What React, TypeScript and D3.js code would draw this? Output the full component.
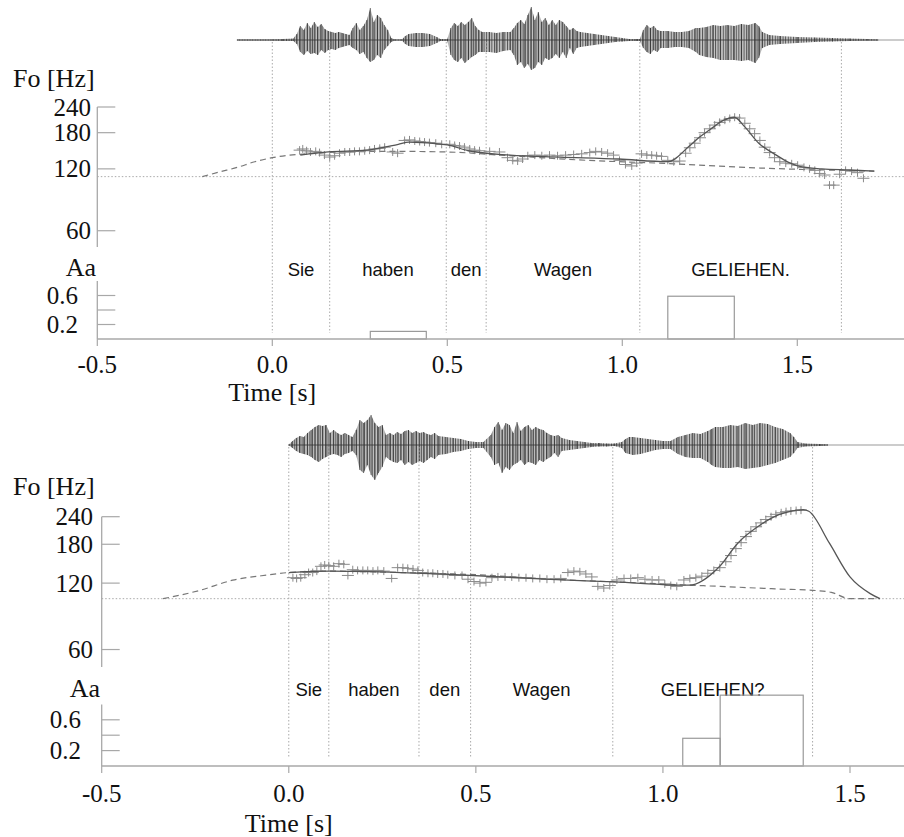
import React from 'react';
import * as d3 from 'd3';

// ---------- shared ticks ----------
const xTicks = [-0.5, 0.0, 0.5, 1.0, 1.5];
const f0Ticks = [60, 120, 180, 240];
const aaTicks = [0.2, 0.4, 0.6];
const aaLabelTicks = [0.2, 0.6];

// ---------- statement: "Sie haben den Wagen GELIEHEN." ----------
const wordsA = ['Sie', 'haben', 'den', 'Wagen', 'GELIEHEN.'];
const boundsA = [0.0, 0.164, 0.497, 0.611, 1.05, 1.626];
const baseHzA = 110;
// phrase component (dashed)
const phraseA: [number, number][] = [
  [-0.2, 110], [-0.15, 116], [-0.1, 122], [-0.05, 130], [0.0, 136], [0.05, 140], [0.1, 142],
  [0.2, 145], [0.35, 146], [0.5, 145], [0.65, 140], [0.9, 132], [1.1, 128], [1.4, 121], [1.72, 117],
];
// total contour (solid)
const contourA: [number, number][] = [
  [0.08, 140], [0.16, 145], [0.27, 148], [0.36, 158], [0.39, 162], [0.5, 157], [0.56, 147],
  [0.68, 140], [0.82, 137], [0.99, 134], [1.13, 130], [1.19, 154], [1.22, 171], [1.25, 186],
  [1.29, 207], [1.32, 214], [1.35, 192], [1.39, 160], [1.44, 140], [1.48, 128], [1.51, 123],
  [1.57, 120], [1.65, 118.5], [1.72, 117],
];
// measured F0 (crosses)
const f0PointsA: [number, number][] = [
  [0.078, 148], [0.087, 150], [0.098, 147], [0.109, 145], [0.124, 146], [0.135, 144], [0.149, 140],
  [0.164, 137], [0.178, 139], [0.192, 143], [0.207, 145], [0.221, 145], [0.235, 146], [0.249, 146],
  [0.264, 147], [0.278, 148], [0.292, 150], [0.307, 151], [0.321, 153], [0.344, 145], [0.358, 143],
  [0.378, 165], [0.392, 166], [0.407, 164], [0.421, 163], [0.435, 162], [0.449, 161], [0.467, 160],
  [0.484, 158], [0.507, 158], [0.521, 156], [0.535, 155], [0.549, 153], [0.564, 150], [0.578, 148],
  [0.592, 147], [0.621, 146], [0.649, 145], [0.672, 136], [0.687, 132], [0.701, 131], [0.715, 134],
  [0.73, 139], [0.75, 140], [0.77, 139], [0.792, 140], [0.815, 139], [0.838, 140], [0.861, 141],
  [0.884, 142], [0.907, 144], [0.924, 146], [0.941, 145], [0.958, 143], [0.975, 140], [0.992, 132],
  [1.009, 126], [1.027, 124], [1.041, 128], [1.055, 142], [1.07, 140], [1.084, 140], [1.098, 139],
  [1.112, 138], [1.13, 132], [1.147, 130], [1.164, 131], [1.181, 143], [1.193, 152], [1.207, 160],
  [1.222, 170], [1.235, 180], [1.25, 188], [1.264, 196], [1.278, 202], [1.293, 207], [1.307, 211],
  [1.321, 214], [1.335, 212], [1.35, 200], [1.364, 188], [1.378, 178], [1.393, 165], [1.407, 153],
  [1.421, 144], [1.435, 136], [1.45, 130], [1.467, 128], [1.484, 127], [1.501, 125], [1.519, 122],
  [1.535, 120], [1.55, 118], [1.564, 114], [1.578, 112], [1.592, 100], [1.604, 100], [1.621, 113],
  [1.638, 118], [1.655, 117], [1.672, 115], [1.689, 108],
];
// accent commands: [onset, offset, amplitude]
const accentsA: [number, number, number][] = [[0.28, 0.44, 0.105], [1.13, 1.32, 0.59]];
// speech waveform envelope: [time, upper, lower]
const waveA: [number, number, number][] = [
  [-0.1, 0.5, 0.5], [0.0, 0.5, 0.5], [0.03, 1, 1], [0.06, 1.5, 1], [0.07, 6, 4], [0.08, 14, 12],
  [0.09, 10, 15], [0.1, 17, 11], [0.11, 12, 14], [0.12, 18, 13], [0.13, 13, 15], [0.14, 16, 10],
  [0.15, 11, 13], [0.16, 9, 10], [0.17, 8, 9], [0.18, 7, 10], [0.19, 8, 8], [0.2, 7, 7], [0.21, 6, 6],
  [0.22, 5, 5], [0.23, 12, 8], [0.24, 17, 10], [0.25, 10, 14], [0.26, 14, 12], [0.27, 20, 18],
  [0.28, 32, 22], [0.29, 18, 20], [0.3, 25, 15], [0.31, 22, 18], [0.32, 15, 10], [0.33, 10, 6],
  [0.34, 2, 2], [0.35, 0.5, 0.5], [0.37, 0.5, 0.5], [0.38, 4, 4], [0.39, 6, 6], [0.41, 7, 7],
  [0.43, 7, 7], [0.45, 6, 6], [0.47, 3, 3], [0.48, 1, 1], [0.5, 1, 1], [0.51, 12, 15], [0.52, 17, 20],
  [0.53, 14, 22], [0.54, 18, 18], [0.55, 15, 23], [0.56, 18, 20], [0.57, 22, 17], [0.58, 14, 15],
  [0.59, 10, 12], [0.6, 8, 12], [0.62, 8, 12], [0.64, 7, 13], [0.66, 8, 11], [0.68, 8, 10],
  [0.69, 12, 15], [0.7, 17, 25], [0.71, 20, 22], [0.72, 16, 28], [0.73, 25, 24], [0.74, 33, 30],
  [0.75, 20, 28], [0.76, 28, 22], [0.77, 18, 25], [0.78, 22, 18], [0.79, 15, 20], [0.8, 20, 18],
  [0.81, 15, 14], [0.82, 20, 18], [0.83, 18, 12], [0.84, 14, 18], [0.85, 10, 8], [0.86, 12, 14],
  [0.87, 9, 8], [0.88, 8, 7], [0.9, 7, 6], [0.92, 6, 5], [0.94, 5, 4], [0.96, 4, 3], [0.98, 3, 2],
  [1.0, 2, 1.5], [1.02, 1, 1], [1.04, 1, 1], [1.05, 1, 1], [1.06, 10, 8], [1.07, 15, 12],
  [1.08, 12, 14], [1.09, 14, 10], [1.1, 10, 12], [1.11, 9, 8], [1.13, 9, 8], [1.15, 8, 7],
  [1.17, 8, 7], [1.19, 9, 8], [1.21, 12, 12], [1.22, 12, 15], [1.24, 13, 17], [1.26, 15, 18],
  [1.28, 14, 20], [1.3, 15, 20], [1.32, 14, 20], [1.34, 16, 21], [1.36, 15, 20], [1.38, 17, 23],
  [1.39, 14, 18], [1.4, 8, 8], [1.42, 5, 5], [1.45, 4, 4], [1.5, 3, 3], [1.55, 2.5, 2],
  [1.6, 2, 1.5], [1.65, 1.5, 1], [1.7, 1, 0.5], [1.73, 0.5, 0.5],
];

// ---------- question: "Sie haben den Wagen GELIEHEN?" ----------
const wordsB = ['Sie', 'haben', 'den', 'Wagen', 'GELIEHEN?'];
const boundsB = [0.0, 0.107, 0.348, 0.486, 0.866, 1.4];
const baseHzB = 102;
const phraseB: [number, number][] = [
  [-0.336, 102], [-0.24, 111], [-0.15, 123.7], [-0.05, 131], [0.0, 134], [0.1, 136], [0.3, 134],
  [0.5, 131], [0.7, 125], [0.9, 121], [1.07, 117.5], [1.15, 116], [1.3, 113], [1.41, 111],
  [1.45, 109], [1.5, 102], [1.58, 102],
];
const contourB: [number, number][] = [
  [0.0, 134], [0.11, 136], [0.3, 134], [0.43, 131.5], [0.7, 124.7], [0.87, 121.5], [1.07, 117.4],
  [1.15, 142], [1.2, 182], [1.26, 220], [1.31, 245], [1.34, 254], [1.375, 258], [1.39, 254],
  [1.445, 182], [1.5, 128], [1.554, 107.5], [1.58, 102],
];
const f0PointsB: [number, number][] = [
  [0.011, 127], [0.021, 126], [0.032, 127], [0.043, 131], [0.053, 134], [0.064, 134], [0.075, 136],
  [0.086, 143], [0.096, 145], [0.107, 144], [0.12, 143], [0.134, 147], [0.147, 146], [0.158, 130],
  [0.171, 138], [0.184, 137], [0.198, 137], [0.211, 137], [0.225, 136], [0.238, 137], [0.254, 136],
  [0.275, 126], [0.291, 141], [0.305, 141], [0.318, 140], [0.332, 139], [0.345, 137], [0.358, 134],
  [0.372, 133], [0.385, 133], [0.398, 132], [0.412, 132], [0.425, 131], [0.444, 130], [0.463, 130],
  [0.479, 125], [0.495, 122], [0.511, 120], [0.527, 121], [0.543, 127], [0.559, 128], [0.578, 128],
  [0.596, 128], [0.615, 127], [0.634, 127], [0.652, 126], [0.671, 126], [0.69, 125], [0.709, 125],
  [0.727, 126], [0.746, 134], [0.762, 136], [0.778, 135], [0.794, 132], [0.81, 128], [0.826, 116],
  [0.842, 114], [0.858, 117], [0.877, 124], [0.896, 126], [0.914, 126], [0.933, 127], [0.952, 125],
  [0.971, 124], [0.989, 124], [1.005, 119], [1.021, 117], [1.037, 116], [1.056, 124], [1.072, 126],
  [1.088, 127], [1.104, 129], [1.12, 133], [1.136, 137], [1.152, 141], [1.168, 150], [1.182, 160],
  [1.195, 172], [1.209, 183], [1.222, 195], [1.235, 206], [1.249, 216], [1.262, 225], [1.275, 233],
  [1.289, 240], [1.302, 246], [1.316, 250], [1.329, 253], [1.342, 255], [1.356, 256], [1.369, 257],
];
const accentsB: [number, number, number][] = [[1.053, 1.153, 0.36], [1.153, 1.375, 0.92]];
const waveB: [number, number, number][] = [
  [0.0, 0.5, 0.5], [0.01, 4, 3], [0.02, 7, 6], [0.03, 9, 8], [0.04, 8, 9], [0.05, 12, 10],
  [0.06, 15, 12], [0.07, 18, 15], [0.08, 20, 17], [0.09, 19, 14], [0.1, 20, 12], [0.11, 12, 10],
  [0.12, 15, 9], [0.13, 12, 10], [0.14, 10, 12], [0.15, 12, 9], [0.16, 10, 8], [0.17, 8, 6],
  [0.18, 15, 10], [0.19, 25, 25], [0.2, 22, 28], [0.21, 25, 20], [0.22, 30, 30], [0.23, 22, 35],
  [0.24, 18, 28], [0.25, 20, 22], [0.26, 10, 12], [0.27, 12, 15], [0.28, 10, 17], [0.29, 13, 18],
  [0.3, 11, 15], [0.31, 14, 20], [0.32, 15, 17], [0.33, 12, 20], [0.34, 14, 18], [0.35, 12, 16],
  [0.36, 13, 18], [0.37, 11, 15], [0.38, 10, 12], [0.39, 12, 14], [0.4, 9, 10], [0.42, 8, 9],
  [0.44, 7, 7], [0.46, 6, 6], [0.48, 4, 4], [0.5, 3, 3], [0.52, 3, 3], [0.54, 10, 12], [0.55, 18, 20],
  [0.56, 23, 18], [0.57, 15, 28], [0.58, 22, 22], [0.59, 20, 25], [0.6, 12, 20], [0.61, 23, 18],
  [0.62, 14, 15], [0.63, 18, 20], [0.64, 20, 17], [0.65, 15, 18], [0.66, 18, 20], [0.67, 16, 15],
  [0.68, 15, 17], [0.69, 12, 14], [0.7, 10, 12], [0.71, 9, 8], [0.72, 10, 12], [0.73, 7, 6],
  [0.75, 5, 5], [0.77, 4, 4], [0.79, 3, 3], [0.81, 2, 2], [0.83, 2, 1.5], [0.85, 1.5, 1.5],
  [0.87, 1.5, 1], [0.89, 3, 3], [0.9, 6, 8], [0.91, 8, 9], [0.92, 8, 10], [0.94, 7, 9], [0.96, 6, 7],
  [0.98, 5, 5], [1.0, 4, 4], [1.02, 4, 4], [1.04, 8, 9], [1.06, 10, 12], [1.08, 12, 13],
  [1.1, 11, 13], [1.12, 14, 17], [1.13, 16, 20], [1.14, 18, 22], [1.16, 18, 23], [1.18, 20, 23],
  [1.2, 19, 22], [1.22, 22, 24], [1.24, 20, 23], [1.26, 22, 22], [1.28, 21, 20], [1.3, 18, 18],
  [1.32, 16, 15], [1.34, 12, 12], [1.35, 8, 8], [1.36, 3, 3], [1.38, 1.5, 1.5], [1.42, 1, 1],
  [1.44, 0.5, 0.5],
];

const serif = '"Liberation Serif", "Times New Roman", serif';
const sans = '"Liberation Sans", Arial, sans-serif';
const axisColor = '#a8a8a8';

type PanelProps = {
  words: string[]; bounds: number[]; baseHz: number;
  phrase: [number, number][]; contour: [number, number][]; f0Points: [number, number][];
  accents: [number, number, number][]; wave: [number, number, number][];
  layout: any; id: string;
};

function Panel({ words, bounds, baseHz, phrase, contour, f0Points, accents, wave, layout, id }: PanelProps) {
  const L = layout;
  const x = d3.scaleLinear().domain([-0.5, 1.5]).range([L.xLeft, L.xLeft + 2 * L.pxPerSec]);
  const yF = d3.scaleLog().domain([50, 240]).range(L.f0Range);
  const yA = d3.scaleLinear().domain([0, 0.8]).range(L.aaRange);
  const yW = d3.scaleLinear().domain([-34, 34]).range([L.waveY + 34, L.waveY - 34]);
  const xEnd = 904;

  const waveArea = d3.area<[number, number, number]>()
    .x(d => x(d[0])).y0(d => yW(-d[2])).y1(d => yW(d[1]));
  const line = d3.line<[number, number]>().x(d => x(d[0])).y(d => yF(d[1])).curve(d3.curveMonotoneX);

  return (
    <g>
      <defs>
        <pattern id={`hatch-${id}`} width={2.6} height={10} patternUnits="userSpaceOnUse">
          <rect width={2.6} height={10} fill="#c4c4c4" />
          <line x1={0.5} x2={0.5} y1={0} y2={10} stroke="#4a4a4a" strokeWidth={0.9} />
        </pattern>
      </defs>

      {/* waveform */}
      <line x1={x(wave[0][0])} x2={xEnd} y1={L.waveY} y2={L.waveY} stroke="#999" strokeWidth={1} />
      <path d={waveArea(wave) || ''} fill={`url(#hatch-${id})`} stroke="none" />
      {wave.map((d, i) => (
        <line key={i} x1={x(d[0])} x2={x(d[0])} y1={yW(d[1])} y2={yW(-d[2])} stroke="#1e1e1e" strokeWidth={0.8} opacity={0.75} />
      ))}
      <line x1={x(wave[0][0])} x2={x(wave[wave.length - 1][0])} y1={L.waveY} y2={L.waveY} stroke="#333" strokeWidth={0.8} />

      {/* word boundaries */}
      {bounds.map((b, i) => (
        <line key={i} x1={x(b)} x2={x(b)} y1={L.boundTop} y2={L.boundBottom} stroke="#aaa" strokeWidth={1} strokeDasharray="1.5,2" />
      ))}
      {words.map((w, i) => (
        <text key={w + i} x={x((bounds[i] + bounds[i + 1]) / 2)} y={L.wordY} textAnchor="middle"
          fontFamily={sans} fontSize={18.5} fill="#111">{w}</text>
      ))}

      {/* baseline frequency */}
      <line x1={L.xLeft} x2={xEnd} y1={yF(baseHz)} y2={yF(baseHz)} stroke="#aaa" strokeWidth={1} strokeDasharray="1.5,2" />

      {/* F0 axis */}
      <line x1={L.xLeft} x2={L.xLeft} y1={yF(240)} y2={yF(50)} stroke={axisColor} strokeWidth={1.3} />
      {f0Ticks.map(t => (
        <g key={t}>
          <line x1={L.xLeft} x2={L.xLeft + 18} y1={yF(t)} y2={yF(t)} stroke={axisColor} strokeWidth={1.2} />
          <text x={L.f0LabelX} y={yF(t)} dy="0.34em" textAnchor="end" fontFamily={serif} fontSize={25} fill="#111">{t}</text>
        </g>
      ))}
      <text x={13} y={L.foLabelY} fontFamily={serif} fontSize={26} fill="#111">Fo [Hz]</text>

      {/* F0 contours */}
      <path d={line(phrase) || ''} fill="none" stroke="#777" strokeWidth={1.2} strokeDasharray="6,4" />
      {f0Points.map((d, i) => (
        <g key={i} stroke="#8a8a8a" strokeWidth={1}>
          <line x1={x(d[0]) - 6} x2={x(d[0]) + 6} y1={yF(d[1])} y2={yF(d[1])} />
          <line x1={x(d[0])} x2={x(d[0])} y1={yF(d[1]) - 4} y2={yF(d[1]) + 4} />
        </g>
      ))}
      <path d={line(contour) || ''} fill="none" stroke="#555" strokeWidth={1.3} />

      {/* Aa axis */}
      <text x={L.aaTextX} y={L.aaLabelY} textAnchor="end" fontFamily={serif} fontSize={26} fill="#111">Aa</text>
      <line x1={L.xLeft} x2={L.xLeft} y1={yA(0.8)} y2={yA(0)} stroke={axisColor} strokeWidth={1.3} />
      {aaTicks.map(t => (
        <line key={t} x1={L.xLeft} x2={L.xLeft + 18} y1={yA(t)} y2={yA(t)} stroke={axisColor} strokeWidth={1.2} />
      ))}
      {aaLabelTicks.map(t => (
        <text key={t} x={L.aaLabelX} y={yA(t)} dy="0.34em" textAnchor="end" fontFamily={serif} fontSize={25} fill="#111">{t.toFixed(1)}</text>
      ))}
      {accents.map((a, i) => (
        <rect key={i} x={x(a[0])} y={yA(a[2])} width={x(a[1]) - x(a[0])} height={yA(0) - yA(a[2])}
          fill="none" stroke="#999" strokeWidth={1.2} />
      ))}

      {/* time axis */}
      <line x1={L.xLeft} x2={xEnd} y1={L.axisY} y2={L.axisY} stroke={axisColor} strokeWidth={1.3} />
      {xTicks.map(t => (
        <g key={t}>
          <line x1={x(t)} x2={x(t)} y1={L.axisY} y2={L.axisY + 7} stroke={axisColor} strokeWidth={1.2} />
          <text x={x(t)} y={L.tickLabelY} textAnchor="middle" fontFamily={serif} fontSize={25} fill="#111">{t.toFixed(1)}</text>
        </g>
      ))}
      <text x={x(0)} y={L.titleY} textAnchor="middle" fontFamily={serif} fontSize={26} fill="#111">Time [s]</text>
    </g>
  );
}

const layoutA = {
  xLeft: 97.3, pxPerSec: 350, waveY: 40, f0Range: [247, 107], aaRange: [339, 281], axisY: 339,
  tickLabelY: 373, titleY: 401, foLabelY: 87, aaLabelY: 276, boundTop: 42, boundBottom: 333,
  wordY: 275.5, f0LabelX: 91, aaLabelX: 78, aaTextX: 96,
};
const layoutB = {
  xLeft: 101.7, pxPerSec: 374.15, waveY: 445, f0Range: [667, 516.7], aaRange: [766, 704.4], axisY: 766,
  tickLabelY: 802, titleY: 832, foLabelY: 495, aaLabelY: 697, boundTop: 447, boundBottom: 757,
  wordY: 695.5, f0LabelX: 93, aaLabelX: 81, aaTextX: 100,
};

export default function App() {
  return (
    <svg width={904} height={837} style={{ position: 'absolute', left: 0, top: 0, background: '#fff' }}>
      <rect width={904} height={837} fill="#fff" />
      <Panel id="a" words={wordsA} bounds={boundsA} baseHz={baseHzA} phrase={phraseA} contour={contourA}
        f0Points={f0PointsA} accents={accentsA} wave={waveA} layout={layoutA} />
      <Panel id="b" words={wordsB} bounds={boundsB} baseHz={baseHzB} phrase={phraseB} contour={contourB}
        f0Points={f0PointsB} accents={accentsB} wave={waveB} layout={layoutB} />
    </svg>
  );
}
